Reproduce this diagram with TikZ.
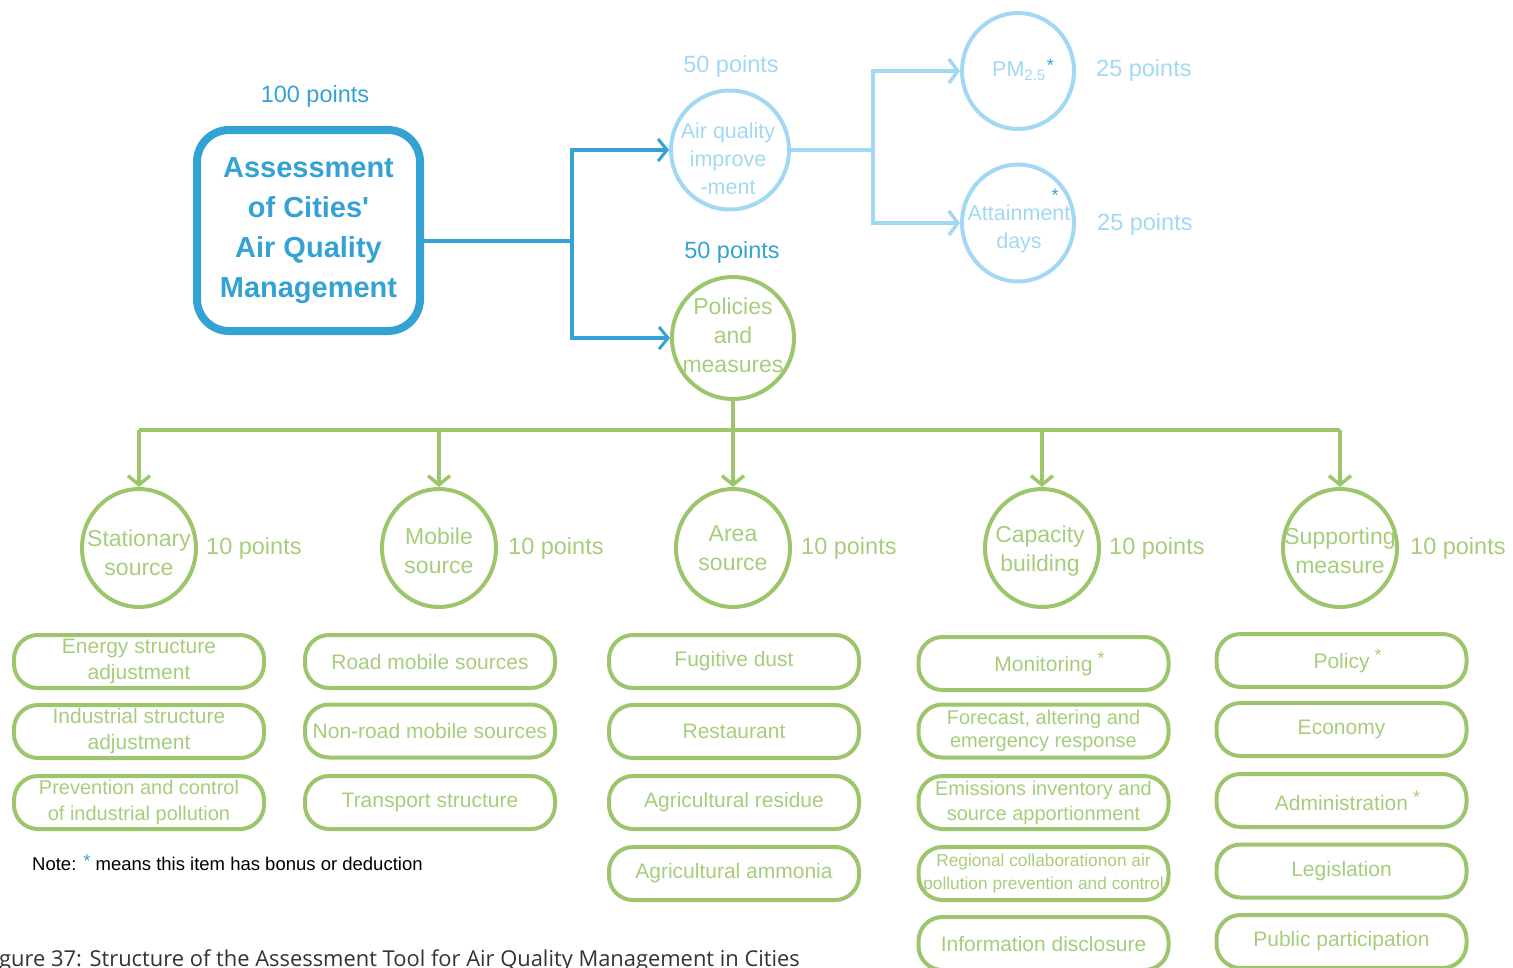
\documentclass[tikz,border=0pt]{standalone}
\usepackage{fontspec}
\setmainfont{Liberation Sans}
\newfontfamily\capfont{Open Sans}
\usetikzlibrary{shapes.geometric,arrows.meta}
\definecolor{dblue}{HTML}{35A2D4}
\definecolor{lblue}{HTML}{A3D8F4}
\definecolor{gline}{HTML}{9DC66C}
\definecolor{gtext}{HTML}{A6CD7B}
\definecolor{capgray}{HTML}{333333}
\newcommand{\astr}[1]{\rlap{\hspace{5pt}\raisebox{#1}{\fontsize{18}{18}\selectfont *}}}
\begin{document}
\begin{tikzpicture}[x=1pt,y=-1pt,
  mainbox/.style={draw=dblue, line width=8pt, rounded corners=32pt, minimum width=223pt, minimum height=201pt, inner sep=0pt, align=center, text=dblue, font=\fontsize{29}{40}\selectfont\bfseries},
  lcirc/.style={ellipse, draw=lblue, line width=4pt, inner sep=0pt},
  gcirc/.style={ellipse, draw=gline, line width=4pt, inner sep=0pt, minimum width=114pt, minimum height=118pt},
  ltext/.style={align=center, text=lblue, inner sep=0pt, font=\fontsize{21.5}{28}\selectfont},
  gctext/.style={align=center, text=gtext, inner sep=0pt, font=\fontsize{23}{29}\selectfont},
  pts/.style={inner sep=0pt, font=\fontsize{23.5}{28}\selectfont},
  gbox/.style={draw=gline, line width=4pt, rounded corners=24pt, minimum width=250pt, minimum height=53pt, inner sep=0pt, align=center, text=gtext, font=\fontsize{21}{26}\selectfont},
  dline/.style={draw=dblue, line width=3.5pt},
  darr/.style={dline, -{Straight Barb[length=9pt,width=22pt,line width=3pt]}},
  lline/.style={draw=lblue, line width=4pt},
  larr/.style={lline, -{Straight Barb[length=9pt,width=24pt,line width=3.5pt]}},
  gline/.style={draw=gline, line width=4pt},
  garr/.style={gline, -{Straight Barb[length=9pt,width=22pt,line width=3.5pt]}}
]
\useasboundingbox (0,0) rectangle (1513,967);

% main box
\node[mainbox] (main) at (308.5,230.5) {Assessment\\of Cities\textquotesingle\\Air Quality\\Management};
\node[pts, text=dblue] (p100) at (315,96) {100 points};

% air quality branch
\node[lcirc, minimum width=118pt, minimum height=119pt] (air) at (730,150) {};
\node[ltext] (airt) at (728,159) {Air quality\\improve\\-ment};
\node[pts, text=lblue] (p50a) at (731,66) {50 points};

\node[lcirc, minimum width=112pt, minimum height=116pt] (pm) at (1018,71) {};
\node[ltext] (pmt) at (1019,70) {PM\textsubscript{2.5}\textcolor{dblue}{\rlap{\hspace{1pt}\raisebox{5pt}{\fontsize{18}{18}\selectfont *}}}};
\node[pts, text=lblue, anchor=west] (p25a) at (1096,70) {25 points};

\node[lcirc, minimum width=112pt, minimum height=117pt] (att) at (1018,223) {};
\node[ltext] (attt) at (1019,229) {Attainment\\days};
\node[inner sep=0pt, text=dblue, font=\fontsize{18}{18}\selectfont] (attstar) at (1055,195) {*};
\node[pts, text=lblue, anchor=west] (p25b) at (1097,224) {25 points};

% policies branch
\node[gcirc, minimum width=122pt, minimum height=122pt] (pol) at (733,338) {};
\node[gctext] (polt) at (733,335.5) {Policies\\and\\measures};
\node[pts, text=dblue] (p50b) at (732,252) {50 points};

% connectors top
\coordinate (jA) at (572,241);
\draw[dline] (jA -| main.east) -- (jA);
\draw[darr] (jA) |- (air.west);
\draw[darr] (jA) |- (pol.west);

\coordinate (jB) at (873,150);
\draw[lline] (air.east) -- (jB);
\draw[larr] (jB) |- (pm.west);
\draw[larr] (jB) |- (att.west);

% second level circles
\node[gcirc] (sta) at (139,548) {};
\node[gctext] (stat) at (139,552.5) {Stationary\\source};
\node[gcirc] (mob) at (439,548) {};
\node[gctext] (mobt) at (439,550.5) {Mobile\\source};
\node[gcirc] (are) at (733,548) {};
\node[gctext] (aret) at (733,548.5) {Area\\source};
\node[gcirc] (cap) at (1042,548) {};
\node[gctext] (capt) at (1040,551) {Capacity\\building};
\node[gcirc] (sup) at (1340,548) {};
\node[gctext] (supt) at (1340,551) {Supporting\\measure};

\foreach \n/\x in {sta/206,mob/508,are/801,cap/1109,sup/1410}
  \node[pts, text=gtext, anchor=west] (pts-\n) at (\x,548) {10 points};

% green connectors
\coordinate (jC) at (733,430);
\draw[gline] (pol.south) -- (jC);
\draw[gline] (sta.north |- jC) -- (sup.north |- jC);
\foreach \n in {sta,mob,are,cap,sup}
  \draw[garr] (\n.north |- jC) -- (\n.north);

% boxes column 1
\node[gbox] (b11) at (139,661.5) {Energy structure\\adjustment};
\node[gbox] (b12) at (139,731.5) {Industrial structure\\adjustment};
\node[gbox, font=\fontsize{20}{26}\selectfont] (b13) at (139,802.5) {Prevention and control\\of industrial pollution};
% column 2
\node[gbox] (b21) at (430,661.5) {Road mobile sources};
\node[gbox] (b22) at (430,731) {Non-road mobile sources};
\node[gbox] (b23) at (430,802.5) {Transport structure};
% column 3
\node[gbox] (b31) at (734,661.5) {Fugitive dust};
\node[gbox] (b32) at (734,731.5) {Restaurant};
\node[gbox] (b33) at (734,802.5) {Agricultural residue};
\node[gbox] (b34) at (734,873.5) {Agricultural ammonia};
% column 4
\node[gbox] (b41) at (1043.5,663.5) {Monitoring\astr{7pt}};
\node[gbox, font=\fontsize{20}{23}\selectfont] (b42) at (1043.5,731) {Forecast, altering and\\emergency response};
\node[gbox, font=\fontsize{20}{25}\selectfont] (b43) at (1043.5,802.5) {Emissions inventory and\\source apportionment};
\node[gbox, font=\fontsize{17.3}{23}\selectfont] (b44) at (1043.5,873.5) {Regional collaborationon air\\pollution prevention and control};
\node[gbox] (b45) at (1043.5,943.5) {Information disclosure};
% column 5
\node[gbox] (b51) at (1341.5,660.5) {Policy\astr{7pt}};
\node[gbox] (b52) at (1341.5,729.5) {Economy};
\node[gbox] (b53) at (1341.5,800.5) {Administration\astr{7pt}};
\node[gbox] (b54) at (1341.5,871) {Legislation};
\node[gbox] (b55) at (1341.5,941.5) {Public participation};

% note and caption
\node[anchor=base west, inner sep=0pt, font=\fontsize{18.5}{22}\selectfont] (note) at (32,870.5) {Note: \textcolor{dblue}{\raisebox{3pt}{*}} means this item has bonus or deduction};
\node[anchor=base west, inner sep=0pt, text=capgray, font=\capfont\fontsize{21.9}{26}\selectfont] (caption) at (-1,966) {gure 37: Structure of the Assessment Tool for Air Quality Management in Cities};
\end{tikzpicture}
\end{document}
